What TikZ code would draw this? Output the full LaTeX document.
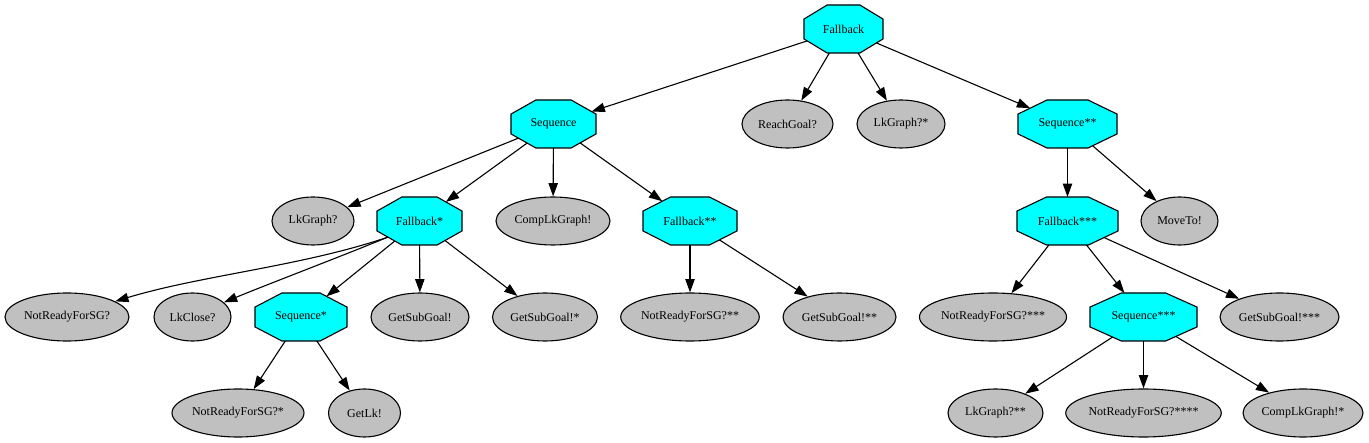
\documentclass[tikz,border=0pt]{standalone}
\usepackage{fontspec}
\setmainfont{Liberation Serif}
\usetikzlibrary{shapes.geometric,arrows.meta}
\makeatletter
\pgfdeclareshape{octagonbox}{%
  \inheritsavedanchors[from=rectangle]%
  \inheritanchor[from=rectangle]{center}%
  \inheritanchor[from=rectangle]{north}%
  \inheritanchor[from=rectangle]{south}%
  \inheritanchor[from=rectangle]{east}%
  \inheritanchor[from=rectangle]{west}%
  \inheritanchor[from=rectangle]{text}%
  \inheritanchor[from=rectangle]{base}%
  \anchorborder{%
    \edef\oct@dx{\the\pgf@x}\edef\oct@dy{\the\pgf@y}%
    \southwest \edef\oct@x{\the\pgf@x}\edef\oct@y{\the\pgf@y}%
    \northeast \edef\oct@X{\the\pgf@x}\edef\oct@Y{\the\pgf@y}%
    \pgfmathsetmacro\oct@a{((\oct@X)-(\oct@x))/2}%
    \pgfmathsetmacro\oct@b{((\oct@Y)-(\oct@y))/2}%
    \pgfmathsetmacro\oct@u{abs(\oct@dx)/\oct@a}%
    \pgfmathsetmacro\oct@v{abs(\oct@dy)/\oct@b}%
    \pgfmathsetmacro\oct@m{max(\oct@u,\oct@v,(\oct@u+\oct@v)/1.41421)}%
    \pgfmathsetmacro\oct@t{1/max(\oct@m,0.0001)}%
    \pgfmathsetlength\pgf@xa{\oct@t*(\oct@dx)+((\oct@x)+(\oct@X))/2}%
    \pgfmathsetlength\pgf@ya{\oct@t*(\oct@dy)+((\oct@y)+(\oct@Y))/2}%
    \pgf@x=\pgf@xa \pgf@y=\pgf@ya
  }%
  \backgroundpath{%
    \southwest \pgfmathsetmacro\oct@x{\the\pgf@x}\pgfmathsetmacro\oct@y{\the\pgf@y}%
    \northeast \pgfmathsetmacro\oct@X{\the\pgf@x}\pgfmathsetmacro\oct@Y{\the\pgf@y}%
    \pgfmathsetmacro\oct@cx{0.29289*((\oct@X)-(\oct@x))}%
    \pgfmathsetmacro\oct@cy{0.29289*((\oct@Y)-(\oct@y))}%
    \pgfpathmoveto{\pgfpoint{(\oct@x)+(\oct@cx)}{\oct@y}}%
    \pgfpathlineto{\pgfpoint{(\oct@X)-(\oct@cx)}{\oct@y}}%
    \pgfpathlineto{\pgfpoint{\oct@X}{(\oct@y)+(\oct@cy)}}%
    \pgfpathlineto{\pgfpoint{\oct@X}{(\oct@Y)-(\oct@cy)}}%
    \pgfpathlineto{\pgfpoint{(\oct@X)-(\oct@cx)}{\oct@Y}}%
    \pgfpathlineto{\pgfpoint{(\oct@x)+(\oct@cx)}{\oct@Y}}%
    \pgfpathlineto{\pgfpoint{\oct@x}{(\oct@Y)-(\oct@cy)}}%
    \pgfpathlineto{\pgfpoint{\oct@x}{(\oct@y)+(\oct@cy)}}%
    \pgfpathclose
  }%
}
\makeatother
\definecolor{octfill}{RGB}{0,255,255}
\definecolor{ellfill}{RGB}{192,192,192}
\tikzset{
  oct/.style={shape=octagonbox, draw=black, fill=octfill, line width=1.1pt,
    inner sep=0pt, outer sep=0pt, minimum width=#1pt, minimum height=48pt},
  ell/.style={ellipse, draw=black, fill=ellfill, line width=1.1pt,
    inner sep=0pt, minimum width=#1pt, minimum height=48pt},
  edge/.style={draw=black, line width=1.1pt, -{Triangle[length=13.3pt,width=9.3pt]}},
}
\begin{document}
\begin{tikzpicture}[x=1pt, y=-1pt, font=\fontsize{12}{14}\selectfont]
\useasboundingbox (0,0) rectangle (1369,443);
% row 1
\node[oct=79] (fb) at (843.5,29) {Fallback};
% row 2
\node[oct=85] (seq) at (553.5,124) {Sequence};
\node[ell=91] (reach) at (787.5,124) {ReachGoal?};
\node[ell=88] (lkgA) at (901,124) {LkGraph?*};
\node[oct=99] (seqB) at (1067.5,124) {Sequence**};
% row 3
\node[ell=82] (lkg) at (313,221) {LkGraph?};
\node[oct=85] (fbA) at (419.5,221) {Fallback*};
\node[ell=114] (comp) at (553,221) {CompLkGraph!};
\node[oct=94] (fbB) at (690,221) {Fallback**};
\node[oct=101] (fbC) at (1067.5,221) {Fallback***};
\node[ell=77] (move) at (1179.5,221) {MoveTo!};
% row 4
\node[ell=124] (nr) at (67,317) {NotReadyForSG?};
\node[ell=77] (lkc) at (192.5,317) {LkClose?};
\node[oct=92] (seqA) at (301,317) {Sequence*};
\node[ell=98] (gsg) at (420,317) {GetSubGoal!};
\node[ell=105] (gsgA) at (545,317) {GetSubGoal!*};
\node[ell=138] (nrB) at (690,317) {NotReadyForSG?**};
\node[ell=113] (gsgB) at (839.5,317) {GetSubGoal!**};
\node[ell=146] (nrC) at (993,317) {NotReadyForSG?***};
\node[oct=107] (seqC) at (1143.5,317) {Sequence***};
\node[ell=119] (gsgC) at (1279.5,317) {GetSubGoal!***};
% row 5
\node[ell=132] (nrA) at (238,413) {NotReadyForSG?*};
\node[ell=72] (getlk) at (364.5,413) {GetLk!};
\node[ell=95] (lkgB) at (995.5,413) {LkGraph?**};
\node[ell=153] (nrD) at (1143.5,413) {NotReadyForSG?****};
\node[ell=120] (compA) at (1303,413) {CompLkGraph!*};
% edges
\draw[edge] (fb) -- (seq);
\draw[edge] (fb) -- (reach);
\draw[edge] (fb) -- (lkgA);
\draw[edge] (fb) -- (seqB);
\draw[edge] (seq) -- (lkg);
\draw[edge] (seq) -- (fbA);
\draw[edge] (seq) -- (comp);
\draw[edge] (seq) -- (fbB);
\draw[edge] (fbA.207) .. controls +(-85,29) and +(86,-26) .. (nr.18);
\draw[edge] (fbA.207) .. controls +(-46,19) and +(46,-19) .. (lkc.25);
\draw[edge] (fbA) -- (seqA);
\draw[edge] (fbA) -- (gsg);
\draw[edge] (fbA) -- (gsgA);
\draw[edge] (seqA) -- (nrA);
\draw[edge] (seqA) -- (getlk);
\draw[edge] (fbB) -- (nrB);
\draw[edge] (fbB) -- (gsgB);
\draw[edge] (seqB) -- (fbC);
\draw[edge] (seqB) -- (move);
\draw[edge] (fbC) -- (nrC);
\draw[edge] (fbC) -- (seqC);
\draw[edge] (fbC) -- (gsgC);
\draw[edge] (seqC) -- (lkgB);
\draw[edge] (seqC) -- (nrD);
\draw[edge] (seqC) -- (compA);
\end{tikzpicture}
\end{document}
